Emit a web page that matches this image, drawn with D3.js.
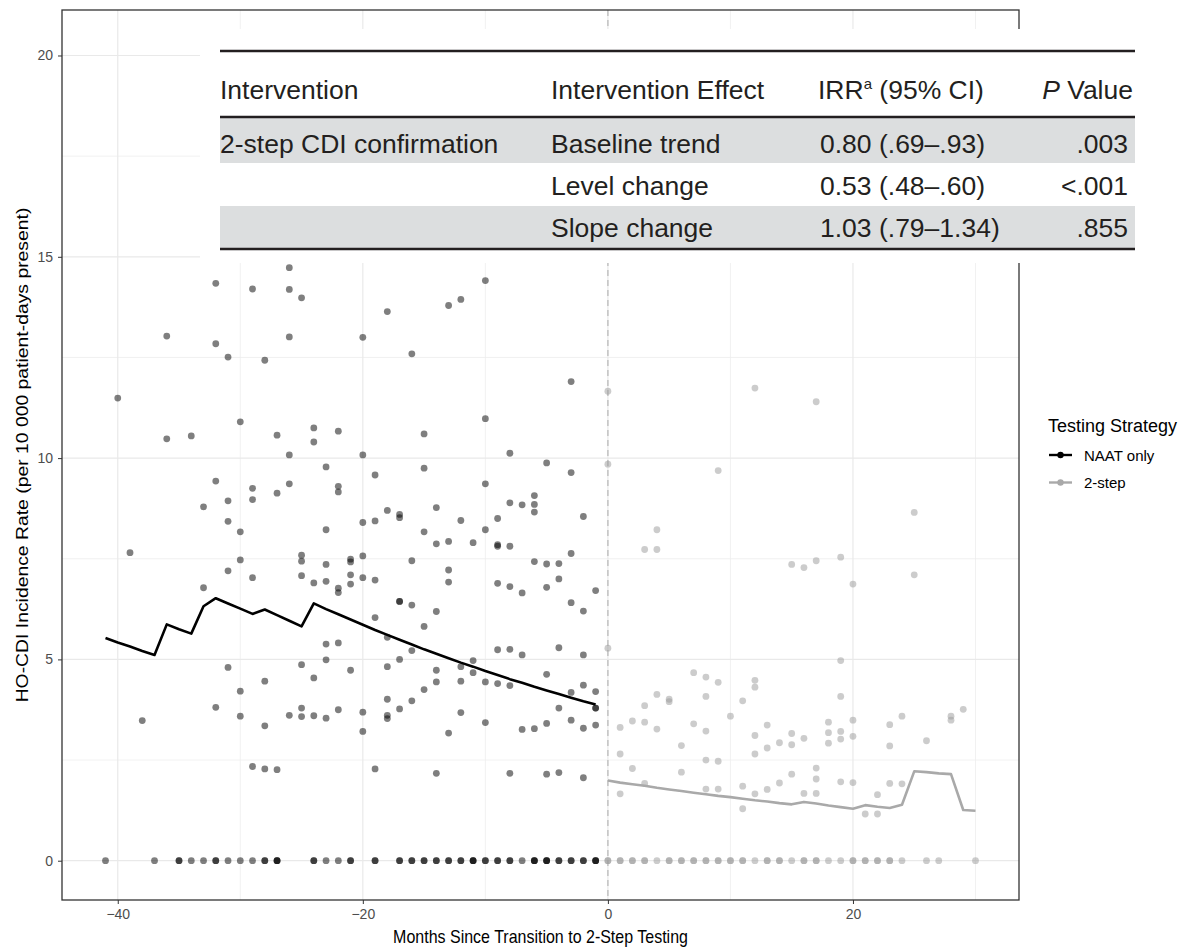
<!DOCTYPE html>
<html>
<head>
<meta charset="utf-8">
<script src="https://cdn.jsdelivr.net/npm/d3@7"></script>
<style>
  body { margin: 0; background: #fff; }
  text { font-family: "Liberation Sans", Arial, Helvetica, sans-serif; }
</style>
</head>
<body>
<svg id="chart"></svg>
<script>
// ── fitted lines (segmented regression, per month) ──
const naatFitMonths = [-41,-40,-39,-38,-37,-36,-35,-34,-33,-32,-31,-30,-29,-28,-27,-26,-25,-24,-23,-22,-21,-20,-19,-18,-17,-16,-15,-14,-13,-12,-11,-10,-9,-8,-7,-6,-5,-4,-3,-2,-1];
const naatFit = [5.53,5.42,5.32,5.21,5.11,5.87,5.75,5.64,6.32,6.52,6.39,6.26,6.13,6.24,6.10,5.96,5.82,6.39,6.25,6.12,5.99,5.86,5.73,5.61,5.49,5.37,5.25,5.14,5.03,4.92,4.82,4.71,4.61,4.51,4.42,4.32,4.23,4.14,4.05,3.96,3.88];
const twoStepFitMonths = [0,1,2,3,4,5,6,7,8,9,10,11,12,13,14,15,16,17,18,19,20,21,22,23,24,25,26,27,28,29,30];
const twoStepFit = [1.99,1.94,1.90,1.86,1.81,1.77,1.73,1.69,1.65,1.61,1.58,1.54,1.50,1.47,1.43,1.40,1.46,1.42,1.37,1.33,1.29,1.38,1.34,1.31,1.39,2.22,2.20,2.17,2.15,1.26,1.24];

// ── observed monthly rates [month, rate] ──
const naatRates = [
  [-26,14.73],[-32,14.34],[-29,14.2],[-26,14.19],[-25,13.98],[-36,13.03],[-32,12.84],[-26,13.01],[-31,12.51],[-28,12.43],
  [-40,11.49],[-30,10.9],[-36,10.48],[-34,10.55],[-27,10.57],[-24,10.75],[-24,10.4],[-22,10.67],[-26,10.08],[-23,9.78],
  [-32,9.43],[-29,9.25],[-26,9.36],[-27,9.13],[-22,9.3],[-22,9.16],[-31,8.94],[-29,8.97],[-33,8.79],[-31,8.43],
  [-30,8.17],[-23,8.22],[-39,7.65],[-30,7.47],[-25,7.59],[-25,7.44],[-23,7.36],[-31,7.2],
  [-10,14.41],[-18,13.64],[-13,13.79],[-12,13.94],[-20,13.0],[-16,12.59],[-3,11.9],[-15,10.6],[-10,10.98],[-8,10.12],
  [-20,10.08],[-19,9.58],[-15,9.75],[-10,9.36],[-5,9.88],[-3,9.64],[-6,9.07],[-6,8.85],[-6,8.66],[-8,8.89],
  [-7,8.84],[-2,8.55],[-14,8.77],[-18,8.7],[-20,8.4],[-19,8.44],[-17,8.52],[-17,8.6],[-15,8.17],[-12,8.45],
  [-10,8.22],[-9,8.5],[-14,7.87],[-13,7.93],[-11,7.9],[-9,7.81],[-9,7.85],[-8,7.81],[-21,7.49],[-21,7.42],
  [-20,7.57],[-16,7.45],[-6,7.43],[-5,7.37],[-4,7.38],[-3,7.63],[-13,7.22],
  [-29,7.03],[-33,6.78],[-25,7.08],[-24,6.9],[-23,6.94],[-22,6.77],[-22,6.66],[-23,5.38],[-22,5.41],[-23,4.99],
  [-31,4.8],[-25,4.87],[-24,4.54],[-28,4.46],[-30,4.21],[-32,3.81],[-30,3.59],[-28,3.35],[-26,3.61],[-25,3.79],
  [-25,3.58],[-24,3.6],[-23,3.54],[-22,3.75],[-38,3.48],[-29,2.34],[-28,2.28],[-27,2.26],
  [-21,7.1],[-21,6.87],[-20,7.03],[-19,6.97],[-13,6.92],[-17,6.44],[-17,6.44],[-16,6.35],[-19,6.04],[-14,6.19],
  [-15,5.82],[-21,4.73],[-18,4.82],[-17,5.0],[-18,5.55],[-16,5.22],[-14,4.73],[-14,4.44],[-12,4.82],[-12,4.46],
  [-11,4.67],[-11,4.97],[-10,4.44],[-9,4.4],[-8,4.35],[-9,5.24],[-8,5.25],[-7,5.11],[-5,4.63],[-4,5.29],
  [-2,5.11],[-4,3.79],[-3,4.18],[-2,4.36],[-1,4.2],[-1,3.79],[-1,3.79],[-1,6.71],[-2,6.2],[-3,6.41],
  [-4,7.0],[-5,6.79],[-7,6.65],[-8,6.81],[-9,6.89],[-20,3.69],[-20,3.21],[-18,4.01],[-18,3.61],[-18,3.53],
  [-17,3.77],[-16,3.97],[-15,4.25],[-13,3.17],[-12,3.68],[-10,3.43],[-7,3.26],[-6,3.28],[-5,3.41],[-3,3.49],
  [-2,3.29],[-1,3.37],[-19,2.28],[-14,2.17],[-8,2.17],[-5,2.15],[-4,2.19],[-2,2.06]
];
const naatZeroMonths = [-41,-37,-35,-35,-34,-33,-32,-32,-31,-30,-29,-28,-28,-27,-27,-27,-24,-24,-23,-22,-21,-21,
  -19,-19,-17,-17,-16,-16,-15,-15,-14,-14,-13,-13,-12,-12,-11,-11,-11,-10,-10,-9,-9,-8,-8,-7,-6,-6,-6,
  -5,-5,-5,-4,-4,-3,-3,-2,-2,-1,-1,-1];

const twoStepRates = [
  [0,11.66],[0,9.85],[12,11.74],[17,11.4],[9,9.69],[4,8.22],[3,7.73],[4,7.73],[15,7.36],[16,7.28],
  [17,7.45],[19,7.54],[20,6.87],[25,8.65],[25,7.1],
  [0,5.28],[19,4.97],[7,4.67],[8,4.56],[9,4.43],[4,4.13],[5,4.01],[5,3.95],[3,3.85],[8,4.08],
  [11,3.97],[12,4.48],[12,4.31],[19,4.08],[1,3.31],[2,3.47],[3,3.44],[4,3.27],[7,3.4],[8,3.22],
  [10,3.59],[13,3.37],[12,3.11],[14,2.93],[15,3.16],[15,2.88],[16,3.04],[13,2.8],[12,2.65],[6,2.86],
  [1,2.65],[18,3.44],[18,3.18],[18,2.92],[19,3.21],[19,3.02],[20,3.09],[20,3.49],[23,2.85],[23,3.38],
  [24,3.59],[26,2.98],[28,3.59],[28,3.49],[29,3.76],[2,2.29],[1,1.66],[3,1.92],[6,2.2],[8,2.5],
  [9,2.47],[8,1.78],[9,1.78],[11,1.85],[11,1.29],[12,1.66],[13,1.77],[14,1.93],[15,2.15],[16,1.67],
  [17,1.67],[17,2.3],[17,2.03],[19,1.96],[20,1.94],[21,1.16],[22,1.16],[22,1.64],[23,1.92],[24,1.91]
];
const twoStepZeroMonths = [0,0,1,1,2,2,3,3,4,5,5,6,6,7,7,8,8,9,9,10,10,11,11,12,13,13,14,14,15,16,16,
  17,17,18,19,20,20,21,21,22,22,23,23,24,26,27,30];

// ── axes ──
const xMajor = [-40, -20, 0, 20];
const xMinor = [-30, -10, 10, 30];
const yMajor = [0, 5, 10, 15, 20];
const yMinor = [2.5, 7.5, 12.5, 17.5];

// ── inset table ──
const tableHeader = ['Intervention', 'Intervention Effect', 'IRR', 'Value'];
const tableRows = [
  ['2-step CDI confirmation', 'Baseline trend', '0.80 (.69–.93)', '.003'],
  ['',                        'Level change',   '0.53 (.48–.60)', '<.001'],
  ['',                        'Slope change',   '1.03 (.79–1.34)', '.855'],
];

const legendItems = [
  {label: 'NAAT only', color: '#000'},
  {label: '2-step',    color: '#a9a9a9'},
];

const W = 1201, H = 947;
const P = {left: 62, right: 1019, top: 10, bottom: 900};

const svg = d3.select('#chart').attr('width', W).attr('height', H);
svg.append('rect').attr('width', W).attr('height', H).attr('fill', '#fff');

const x = d3.scaleLinear().domain([-44.55, 33.55]).range([P.left, P.right]);
const y = d3.scaleLinear().domain([-0.976, 21.13]).range([P.bottom, P.top]);

const panel = svg.append('g');

// gridlines
panel.selectAll('.gx-min').data(xMinor).enter().append('line')
  .attr('x1', d => x(d)).attr('x2', d => x(d)).attr('y1', P.top).attr('y2', P.bottom)
  .attr('stroke', '#eeeeee').attr('stroke-width', 0.8);
panel.selectAll('.gy-min').data(yMinor).enter().append('line')
  .attr('y1', d => y(d)).attr('y2', d => y(d)).attr('x1', P.left).attr('x2', P.right)
  .attr('stroke', '#eeeeee').attr('stroke-width', 0.8);
panel.selectAll('.gx').data(xMajor).enter().append('line')
  .attr('x1', d => x(d)).attr('x2', d => x(d)).attr('y1', P.top).attr('y2', P.bottom)
  .attr('stroke', '#e9e9e9').attr('stroke-width', 1.2);
panel.selectAll('.gy').data(yMajor).enter().append('line')
  .attr('y1', d => y(d)).attr('y2', d => y(d)).attr('x1', P.left).attr('x2', P.right)
  .attr('stroke', '#e9e9e9').attr('stroke-width', 1.2);

// transition marker
panel.append('line')
  .attr('x1', x(0)).attr('x2', x(0)).attr('y1', P.top).attr('y2', P.bottom)
  .attr('stroke', '#bcbcbc').attr('stroke-width', 1.3).attr('stroke-dasharray', '6,4');

// points
const naatAll = naatRates.concat(naatZeroMonths.map(m => [m, 0]));
const twoAll = twoStepRates.concat(twoStepZeroMonths.map(m => [m, 0]));

panel.selectAll('.p-naat').data(naatAll).enter().append('circle')
  .attr('cx', d => x(d[0])).attr('cy', d => y(d[1])).attr('r', 3.4)
  .attr('fill', '#000').attr('fill-opacity', 0.5);
panel.selectAll('.p-two').data(twoAll).enter().append('circle')
  .attr('cx', d => x(d[0])).attr('cy', d => y(d[1])).attr('r', 3.4)
  .attr('fill', '#999').attr('fill-opacity', 0.5);

// fitted lines
const line = d3.line().x(d => x(d[0])).y(d => y(d[1]));
panel.append('path')
  .datum(naatFitMonths.map((m, i) => [m, naatFit[i]]))
  .attr('d', line).attr('fill', 'none').attr('stroke', '#000')
  .attr('stroke-width', 2.6).attr('stroke-linejoin', 'round');
panel.append('path')
  .datum(twoStepFitMonths.map((m, i) => [m, twoStepFit[i]]))
  .attr('d', line).attr('fill', 'none').attr('stroke', '#a9a9a9')
  .attr('stroke-width', 2.6).attr('stroke-linejoin', 'round');

// panel border
svg.append('rect')
  .attr('x', P.left).attr('y', P.top).attr('width', P.right - P.left).attr('height', P.bottom - P.top)
  .attr('fill', 'none').attr('stroke', '#333').attr('stroke-width', 1.3);

// axes
const xAxis = svg.append('g').attr('transform', `translate(0,${P.bottom})`)
  .call(d3.axisBottom(x).tickValues(xMajor).tickSize(4).tickPadding(5));
const yAxis = svg.append('g').attr('transform', `translate(${P.left},0)`)
  .call(d3.axisLeft(y).tickValues(yMajor).tickSize(4).tickPadding(5));
[xAxis, yAxis].forEach(a => {
  a.select('.domain').remove();
  a.selectAll('line').attr('stroke', '#333');
  a.selectAll('text').attr('fill', '#4d4d4d').style('font-size', '14px')
    .style('font-family', '"Liberation Sans", Arial, sans-serif');
});

// axis titles (source figure is slightly stretched vertically)
svg.append('text').attr('transform', `translate(${(P.left + P.right) / 2},943) scale(1,1.15)`)
  .attr('text-anchor', 'middle').attr('font-size', 16).attr('fill', '#000')
  .text('Months Since Transition to 2-Step Testing');
svg.append('text').attr('transform', `translate(28,${(P.top + P.bottom) / 2}) scale(1,1.21) rotate(-90)`)
  .attr('text-anchor', 'middle').attr('font-size', 16).attr('fill', '#000')
  .text('HO-CDI Incidence Rate (per 10 000 patient-days present)');

// legend
const leg = svg.append('g');
leg.append('text').attr('x', 1048).attr('y', 432).attr('font-size', 18).attr('fill', '#000')
  .text('Testing Strategy');
const li = leg.selectAll('.li').data(legendItems).enter().append('g')
  .attr('transform', (d, i) => `translate(0,${455 + i * 27.5})`);
li.append('line').attr('x1', 1049).attr('x2', 1072).attr('stroke', d => d.color).attr('stroke-width', 2.4);
li.append('circle').attr('cx', 1060.5).attr('r', 3.2).attr('fill', d => d.color);
li.append('text').attr('x', 1084).attr('y', 5.5).attr('font-size', 15).attr('fill', '#000').text(d => d.label);

// inset table (pasted over the top of the panel)
const tb = svg.append('g');
tb.append('rect').attr('x', 200).attr('y', 29).attr('width', 950).attr('height', 234).attr('fill', '#fff');
const TL = 220, TR = 1135, colX = [220, 551, 820];
const rowTop = [117, 163, 206], rowBot = [163, 206, 248];
tb.selectAll('.shade').data(tableRows).enter().append('rect')
  .attr('x', TL).attr('width', TR - TL)
  .attr('y', (d, i) => rowTop[i]).attr('height', (d, i) => rowBot[i] - rowTop[i])
  .attr('fill', (d, i) => i % 2 === 0 ? '#dcdedf' : 'none');
[51, 117, 249].forEach(yy => tb.append('line').attr('x1', TL).attr('x2', TR)
  .attr('y1', yy).attr('y2', yy).attr('stroke', '#231f20').attr('stroke-width', 2.6));

const tfs = 26.5;
const hdr = tb.append('g').attr('fill', '#231f20').attr('font-size', tfs);
hdr.append('text').attr('x', colX[0]).attr('y', 99).text(tableHeader[0]);
hdr.append('text').attr('x', colX[1]).attr('y', 99).text(tableHeader[1]);
const irr = hdr.append('text').attr('x', 818).attr('y', 99);
irr.append('tspan').text(tableHeader[2]);
irr.append('tspan').attr('font-size', 15).attr('dy', -10).text('a');
irr.append('tspan').attr('dy', 10).text(' (95% CI)');
const pv = hdr.append('text').attr('x', 1133).attr('y', 99).attr('text-anchor', 'end');
pv.append('tspan').attr('font-style', 'italic').text('P');
pv.append('tspan').text(' ' + tableHeader[3]);

const baseY = [153, 195, 237];
tableRows.forEach((r, i) => {
  const g = tb.append('g').attr('fill', '#231f20').attr('font-size', tfs);
  g.append('text').attr('x', colX[0]).attr('y', baseY[i]).text(r[0]);
  g.append('text').attr('x', colX[1]).attr('y', baseY[i]).text(r[1]);
  g.append('text').attr('x', colX[2]).attr('y', baseY[i]).text(r[2]);
  g.append('text').attr('x', 1128).attr('y', baseY[i]).attr('text-anchor', 'end').text(r[3]);
});
</script>
</body>
</html>
